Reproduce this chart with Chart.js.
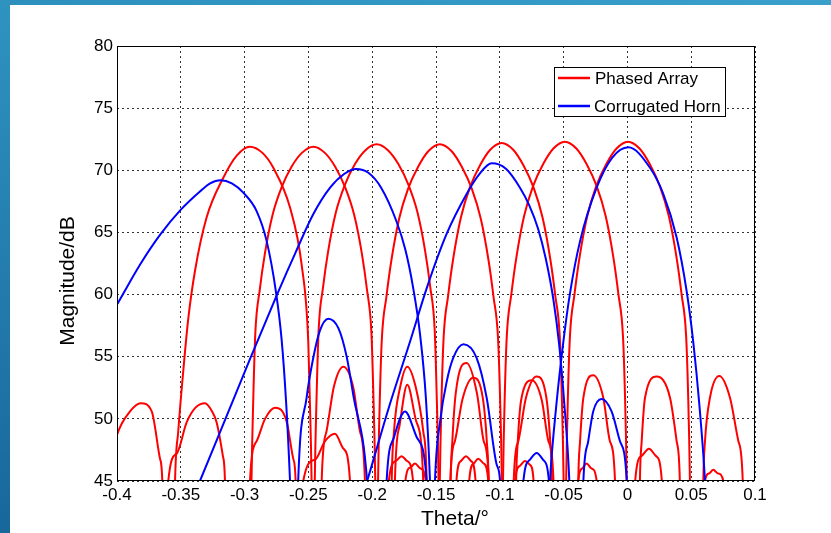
<!DOCTYPE html>
<html>
<head>
<meta charset="utf-8">
<script src="https://cdn.jsdelivr.net/npm/chart.js@4.4.1/dist/chart.umd.min.js"></script>
<style>
  html, body { margin: 0; padding: 0; background: #fff; }
  #frame { position: relative; width: 831px; height: 533px; overflow: hidden; background: #fff; }
  #topBand { position: absolute; left: 0; top: 0; width: 831px; height: 5px; background: linear-gradient(to right, #2c8fbd, #3a9fca); }
  #leftBand { position: absolute; left: 0; top: 0; width: 10px; height: 533px; background: linear-gradient(to bottom, #2f93c0, #18679b); }
  canvas { position: absolute; left: 0; top: 0; }
</style>
</head>
<body>
<div id="frame">
  <div id="topBand"></div>
  <div id="leftBand"></div>
  <canvas id="chart" width="831" height="533"></canvas>
</div>
<script>
// series names and axis titles
var seriesNames = ['Phased Array', 'Corrugated Horn'];
var xTitle = 'Theta/\u00b0';
var yTitle = 'Magnitude/dB';

// axis ranges / ticks
var xTicks = [-0.4, 0.1, 0.05];
var yTicks = [45, 80, 5];

// Phased array main beams [theta, dB] (values below 45 dB are nulls, clipped)
var phased1 = [[-0.3565,32],[-0.3545,45],[-0.352,49],[-0.3475,54.5],[-0.3441,58.1],[-0.3389,61.9],[-0.3298,66.2],[-0.3167,69.4],[-0.306,71.2],[-0.296,71.9],[-0.286,71.4],[-0.2775,70.2],[-0.2644,67.0],[-0.2553,62.4],[-0.2501,56.2],[-0.249,52],[-0.2475,45],[-0.2462,32]];
var phased2 = [[-0.296,32],[-0.2946,45],[-0.2931,52],[-0.2916,56.9],[-0.2881,60.4],[-0.2841,63.3],[-0.2781,66.4],[-0.2711,68.6],[-0.2631,70.3],[-0.2551,71.4],[-0.2461,71.9],[-0.2371,71.4],[-0.2291,70.3],[-0.2211,68.6],[-0.2141,66.4],[-0.2081,63.3],[-0.2041,60.4],[-0.2006,56.9],[-0.1991,52],[-0.1976,45],[-0.1963,32]];
var phased3 = [[-0.2464,32],[-0.245,45],[-0.2435,52.1],[-0.242,57.1],[-0.2385,60.6],[-0.2345,63.5],[-0.2285,66.6],[-0.2215,68.8],[-0.2135,70.5],[-0.2055,71.6],[-0.1965,72.1],[-0.1875,71.6],[-0.1795,70.5],[-0.1715,68.8],[-0.1645,66.6],[-0.1585,63.5],[-0.1545,60.6],[-0.151,57.1],[-0.1495,52.1],[-0.148,45],[-0.1467,32]];
var phased4 = [[-0.1967,32],[-0.1954,45],[-0.1939,52.1],[-0.1924,56.5],[-0.1889,59.8],[-0.1849,62.8],[-0.1789,66.1],[-0.1719,68.5],[-0.1639,70.3],[-0.1559,71.55],[-0.1469,72.1],[-0.1379,71.55],[-0.1299,70.3],[-0.1219,68.5],[-0.1149,66.1],[-0.1089,62.8],[-0.1049,59.8],[-0.1014,56.5],[-0.0999,52.1],[-0.0984,45],[-0.0971,32]];
var phased5 = [[-0.1483,32],[-0.147,45],[-0.1455,52.2],[-0.144,56.6],[-0.1405,59.9],[-0.1365,62.9],[-0.1305,66.2],[-0.1235,68.6],[-0.1155,70.4],[-0.1075,71.65],[-0.0985,72.2],[-0.0895,71.65],[-0.0815,70.4],[-0.0735,68.6],[-0.0665,66.2],[-0.0605,62.9],[-0.0565,59.9],[-0.053,56.6],[-0.0515,52.2],[-0.05,45],[-0.0487,32]];
var phased6 = [[-0.0988,32],[-0.0975,45],[-0.096,52.3],[-0.0945,56.7],[-0.091,60],[-0.087,63],[-0.081,66.3],[-0.074,68.7],[-0.066,70.5],[-0.058,71.75],[-0.049,72.3],[-0.04,71.75],[-0.032,70.5],[-0.024,68.7],[-0.017,66.3],[-0.011,63],[-0.007,60],[-0.0035,56.7],[-0.002,52.3],[-0.0005,45],[0.0008,32]];
var phased7 = [[-0.0493,32],[-0.048,45],[-0.0465,52.3],[-0.045,56.7],[-0.0415,60],[-0.0375,63],[-0.0315,66.3],[-0.0245,68.7],[-0.0165,70.5],[-0.0085,71.75],[0.0005,72.3],[0.0095,71.75],[0.0175,70.5],[0.0255,68.7],[0.0325,66.3],[0.0385,63],[0.0425,60],[0.046,56.7],[0.0475,52.3],[0.049,45],[0.0503,32]];

// Phased array side lobes
var phasedLobes = [
  [[-0.41,44],[-0.4,48.7],[-0.3898,50.6],[-0.3814,51.26],[-0.3728,50.6],[-0.3663,46.8],[-0.3645,45],[-0.363,32]],
  [[-0.3615,32],[-0.3598,45],[-0.3533,47.2],[-0.3455,49.7],[-0.3385,50.9],[-0.331,51.26],[-0.3255,50.6],[-0.3219,49.7],[-0.317,47],[-0.3154,45],[-0.314,32]],
  [[-0.2975,32],[-0.2958,45],[-0.2906,48.2],[-0.284,50.0],[-0.2762,50.9],[-0.2671,49.8],[-0.2619,46.8],[-0.26,45],[-0.2585,32]],
  [[-0.2555,32],[-0.254,45],[-0.245,46.7],[-0.237,48.2],[-0.2292,48.8],[-0.2225,47.6],[-0.2174,45],[-0.216,32]],
  [[-0.241,32],[-0.2396,45],[-0.2358,49.0],[-0.23,52.6],[-0.2226,54.2],[-0.215,52.6],[-0.2096,49.0],[-0.2057,45],[-0.2043,32]],
  [[-0.1862,32],[-0.1847,45],[-0.1829,49],[-0.178,52.6],[-0.1725,54.2],[-0.166,52.6],[-0.16,49],[-0.1573,45],[-0.1558,32]],
  [[-0.1837,32],[-0.1822,45],[-0.1785,49.5],[-0.1725,52.74],[-0.1655,49.8],[-0.16,45],[-0.1585,32]],
  [[-0.1885,32],[-0.187,45],[-0.1815,46.6],[-0.177,47.0],[-0.1725,46.6],[-0.168,45],[-0.1665,32]],
  [[-0.1755,32],[-0.174,45],[-0.17,46.1],[-0.1665,46.4],[-0.162,46.0],[-0.158,45],[-0.1565,32]],
  [[-0.14,32],[-0.1385,45],[-0.1372,48.2],[-0.1346,52],[-0.126,54.5],[-0.1178,52],[-0.1126,48.2],[-0.1086,45],[-0.1071,32]],
  [[-0.1402,32],[-0.1388,45],[-0.1352,48.2],[-0.1292,51.6],[-0.1208,53.3],[-0.1132,51.6],[-0.1102,48.2],[-0.1088,45],[-0.1073,32]],
  [[-0.1355,32],[-0.134,45],[-0.1305,46.6],[-0.1265,47.0],[-0.1225,46.6],[-0.119,45],[-0.1175,32]],
  [[-0.1255,32],[-0.124,45],[-0.1205,46.4],[-0.117,46.8],[-0.1125,46.4],[-0.109,45],[-0.1075,32]],
  [[-0.0887,32],[-0.0872,45],[-0.0859,48.2],[-0.0833,51.5],[-0.075,53.1],[-0.0671,51.5],[-0.0619,48.2],[-0.0579,45],[-0.0564,32]],
  [[-0.0905,32],[-0.0891,45],[-0.0855,48.2],[-0.0795,51.7],[-0.0711,53.4],[-0.0635,51.7],[-0.0605,48.2],[-0.0591,45],[-0.0576,32]],
  [[-0.0895,32],[-0.088,45],[-0.0845,46.2],[-0.0803,46.6],[-0.0763,46.3],[-0.0735,45],[-0.072,32]],
  [[-0.04,32],[-0.0385,45],[-0.0371,48.2],[-0.0345,51.7],[-0.0268,53.5],[-0.0189,51.7],[-0.0137,48.2],[-0.0097,45],[-0.0083,32]],
  [[-0.04,32],[-0.0385,45],[-0.0355,46.0],[-0.032,46.4],[-0.028,46.0],[-0.0241,45],[-0.0226,32]],
  [[0.0046,32],[0.0061,45],[0.011,47.0],[0.0169,47.6],[0.0225,47.0],[0.027,45],[0.0285,32]],
  [[0.0083,32],[0.0098,45],[0.0112,48.2],[0.0138,51.7],[0.0229,53.4],[0.0334,51.7],[0.0386,48.2],[0.0411,45],[0.0426,32]],
  [[0.0593,32],[0.0608,45],[0.064,45.6],[0.0673,45.9],[0.071,45.6],[0.0752,45],[0.0767,32]],
  [[0.058,32],[0.0595,45],[0.0608,48.2],[0.0647,51.7],[0.072,53.45],[0.0804,51.7],[0.087,48.2],[0.0904,45],[0.092,32]]
];

// Corrugated horn beams
var horn1 = [[-0.41,57.5],[-0.4,59.2],[-0.382,62.4],[-0.3663,64.8],[-0.3498,66.85],[-0.335,68.3],[-0.327,68.95],[-0.319,69.2],[-0.31,68.95],[-0.301,68.2],[-0.2905,66.7],[-0.2827,64.3],[-0.2754,60.2],[-0.271,56.4],[-0.2675,51.4],[-0.2644,45],[-0.263,41]];
var horn2 = [[-0.35,41.2],[-0.335,45],[-0.315,50],[-0.295,55],[-0.275,59.9],[-0.26,63.4],[-0.246,66.5],[-0.233,68.6],[-0.222,69.7],[-0.2127,70.1],[-0.203,69.8],[-0.193,68.6],[-0.181,65.9],[-0.174,63.6],[-0.168,60.6],[-0.1625,56.8],[-0.158,51.8],[-0.1547,45],[-0.1535,41]];
var horn3 = [[-0.215,41.5],[-0.204,45],[-0.187,50.9],[-0.1704,56.2],[-0.157,60.6],[-0.1416,64.9],[-0.126,68.1],[-0.116,69.7],[-0.1063,70.56],[-0.095,70.1],[-0.0842,68.6],[-0.077,67.2],[-0.07,65.3],[-0.064,62.9],[-0.058,59.6],[-0.0535,56.0],[-0.0495,51.3],[-0.0455,45],[-0.0442,41]];
var horn4 = [[-0.0625,41],[-0.0607,45],[-0.0555,51.3],[-0.0502,56.2],[-0.045,60.1],[-0.0371,64.3],[-0.0241,68.6],[-0.012,71.0],[0.0007,71.85],[0.0177,70.2],[0.0281,68.1],[0.0386,64.6],[0.0464,60.3],[0.0516,56.2],[0.0565,51],[0.0608,45],[0.0625,41]];
var hornLobes = [
  [[-0.2595,38],[-0.258,45],[-0.2514,51.7],[-0.2462,54.9],[-0.241,57.1],[-0.2344,58.06],[-0.2265,57.3],[-0.22,55.0],[-0.2148,51.9],[-0.204,45],[-0.2025,42]],
  [[-0.1905,38],[-0.1887,45],[-0.183,48.5],[-0.1743,50.6],[-0.165,48.5],[-0.1573,45],[-0.1555,38]],
  [[-0.1525,38],[-0.1508,45],[-0.1465,50],[-0.1416,53.0],[-0.1365,54.9],[-0.1285,56.0],[-0.1182,54.9],[-0.1103,51.7],[-0.1024,46.3],[-0.0998,45],[-0.098,38]],
  [[-0.0835,38],[-0.0815,45],[-0.0765,46.7],[-0.0711,47.25],[-0.066,46.7],[-0.0615,45],[-0.0598,38]],
  [[-0.036,38],[-0.0345,45],[-0.0307,48.2],[-0.0268,50.6],[-0.0202,51.6],[-0.0124,50.6],[-0.0058,48.2],[-0.0005,45],[0.001,38]]
];

var RED = '#ff0000', BLUE = '#0000ff';
var FONT = '"Liberation Sans", Arial, sans-serif';

function lineSet(points, color, label, order) {
  return {
    label: label,
    data: points.map(function(p) { return {x: p[0], y: p[1]}; }),
    borderColor: color,
    borderWidth: 2,
    pointRadius: 0,
    fill: false,
    cubicInterpolationMode: 'monotone',
    order: order
  };
}

var datasets = [];
[phased1, phased2, phased3, phased4, phased5, phased6, phased7].concat(phasedLobes).forEach(function(s) {
  datasets.push(lineSet(s, RED, seriesNames[0], 2));
});
[horn1, horn2, horn3, horn4].concat(hornLobes).forEach(function(s) {
  datasets.push(lineSet(s, BLUE, seriesNames[1], 1));
});

// box round the axes, axis titles and legend, drawn MATLAB style
var decor = {
  id: 'decor',
  afterDraw: function(chart) {
    var ctx = chart.ctx, a = chart.chartArea;
    ctx.save();
    ctx.strokeStyle = '#000';
    ctx.lineWidth = 1;
    ctx.strokeRect(Math.round(a.left) + 0.5, Math.round(a.top) + 0.5,
                   Math.round(a.right - a.left) - 1, Math.round(a.bottom - a.top) - 1);

    ctx.fillStyle = '#000';
    ctx.font = '21px ' + FONT;
    ctx.textAlign = 'center';
    ctx.textBaseline = 'middle';
    ctx.fillText(xTitle, 455, 519);
    ctx.save();
    ctx.translate(68, 281);
    ctx.rotate(-Math.PI / 2);
    ctx.fillText(yTitle, 0, 0);
    ctx.restore();

    // legend
    ctx.fillStyle = '#fff';
    ctx.fillRect(554.5, 67.5, 171, 49);
    ctx.strokeRect(554.5, 67.5, 171, 49);
    ctx.lineWidth = 2.5;
    ctx.strokeStyle = RED;
    ctx.beginPath(); ctx.moveTo(558, 78); ctx.lineTo(590, 78); ctx.stroke();
    ctx.strokeStyle = BLUE;
    ctx.beginPath(); ctx.moveTo(558, 106); ctx.lineTo(590, 106); ctx.stroke();
    ctx.fillStyle = '#000';
    ctx.font = '17px ' + FONT;
    ctx.textAlign = 'left';
    ctx.fillText(seriesNames[0], 595, 79);
    ctx.fillText(seriesNames[1], 594, 107);
    ctx.restore();
  }
};

new Chart(document.getElementById('chart').getContext('2d'), {
  type: 'line',
  data: { datasets: datasets },
  options: {
    responsive: false,
    animation: false,
    layout: { padding: { left: 0, right: 76, top: 46, bottom: 0 } },
    plugins: { legend: { display: false }, tooltip: { enabled: false } },
    scales: {
      x: {
        type: 'linear',
        min: xTicks[0],
        max: xTicks[1],
        afterFit: function(s) { s.height = 52; },
        grid: { color: '#333', drawTicks: false },
        border: { display: false, dash: [2, 3] },
        ticks: {
          stepSize: xTicks[2],
          autoSkip: false,
          maxRotation: 0,
          padding: 4,
          color: '#000',
          font: { family: FONT, size: 17 },
          callback: function(v) { return String(+v.toFixed(2)); }
        }
      },
      y: {
        min: yTicks[0],
        max: yTicks[1],
        afterFit: function(s) { s.width = 117; },
        grid: { color: '#333', drawTicks: false },
        border: { display: false, dash: [2, 3] },
        ticks: {
          stepSize: yTicks[2],
          padding: 4,
          color: '#000',
          font: { family: FONT, size: 17 }
        }
      }
    }
  },
  plugins: [decor]
});
</script>
</body>
</html>
